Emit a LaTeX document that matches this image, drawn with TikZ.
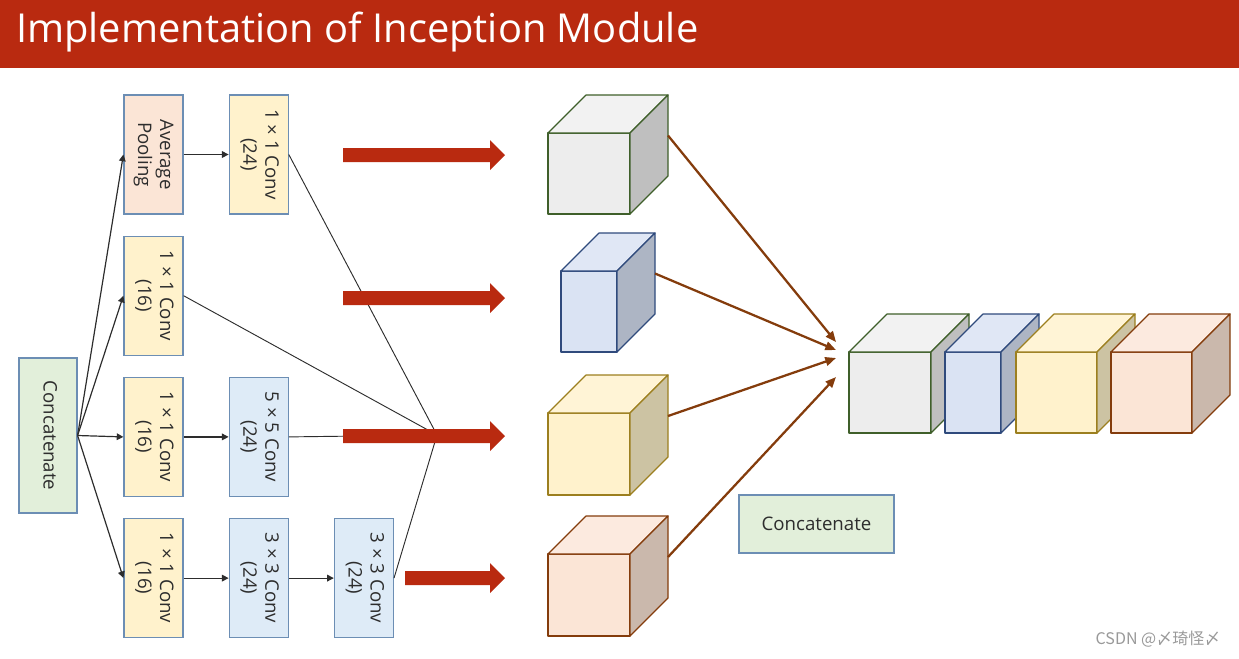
\documentclass[tikz,border=0pt]{standalone}
\usepackage{fontspec}
\setmainfont{Open Sans}
\newfontfamily\cjk{Noto Sans CJK SC}
\usetikzlibrary{positioning,arrows.meta}

\definecolor{titlered}{RGB}{185,42,16}
\definecolor{boxline}{RGB}{108,142,180}
\definecolor{txt}{RGB}{45,45,45}
\definecolor{greenfill}{RGB}{226,239,218}
\definecolor{peachfill}{RGB}{251,229,214}
\definecolor{yellowfill}{RGB}{255,242,204}
\definecolor{bluefill}{RGB}{222,235,247}
\definecolor{brownline}{RGB}{132,60,12}
\definecolor{grayfront}{RGB}{237,237,237}
\definecolor{graytop}{RGB}{242,242,242}
\definecolor{grayside}{RGB}{191,191,191}
\definecolor{grayline}{RGB}{63,95,42}
\definecolor{bluefront}{RGB}{218,227,243}
\definecolor{bluetop}{RGB}{224,231,245}
\definecolor{blueside}{RGB}{173,181,196}
\definecolor{bluecube}{RGB}{47,74,124}
\definecolor{yellowfront}{RGB}{255,242,204}
\definecolor{yellowtop}{RGB}{255,244,214}
\definecolor{yellowside}{RGB}{204,195,163}
\definecolor{yellowline}{RGB}{156,127,31}
\definecolor{orangefront}{RGB}{251,229,214}
\definecolor{orangetop}{RGB}{252,234,223}
\definecolor{orangeside}{RGB}{202,184,172}

\newcommand{\vtext}[1]{\rotatebox{-90}{\begin{tabular}{@{}c@{}}#1\end{tabular}}}
\newcommand{\drawcube}[9]{%
	\filldraw[cubeline, draw=#9, fill=#6] (#2,#3) rectangle ++(#4,#5);
	\filldraw[cubeline, draw=#9, fill=#7] (#2,#3) -- ++(38,-38) -- ++(#4,0) -- ++(-38,38) -- cycle;
	\filldraw[cubeline, draw=#9, fill=#8] (#2+#4,#3) -- ++(38,-38) -- ++(0,#5) -- ++(-38,38) -- cycle;
	\coordinate (#1) at (#2+#4+38,#3-38+#5/2);}
\newcommand{\bigarrow}[2]{\fill[titlered] (#1,#2-7) -- (490,#2-7) -- (490,#2-15) -- (505,#2) -- (490,#2+15) -- (490,#2+7) -- (#1,#2+7) -- cycle;}

\begin{document}
\begin{tikzpicture}
		[x=0.75pt, y=-0.75pt, node distance={15.75pt and 33.75pt},
		layer/.style = {draw=boxline, line width=0.9pt, text=txt, inner sep=0pt,
			minimum width=44.25pt, minimum height=89.25pt, font=\fontsize{14}{16.5}\selectfont},
		link/.style = {draw=txt, line width=0.9pt, -{Triangle[length=5pt,width=5pt]}},
		thinline/.style = {draw=txt, line width=0.7pt},
		feed/.style = {draw=brownline, line width=1.7pt, -{Triangle[length=8pt,width=6.5pt]}},
		cubeline/.style = {line width=0.9pt, line join=round}]
	\useasboundingbox (0,0) rectangle (1239,658);
	\fill[titlered] (0,0) rectangle (1239,68);
	\node[anchor=base west, text=white, inner sep=0pt, font=\fontsize{29.9}{34}\selectfont] (title) at (16,42) {Implementation of Inception Module};

	\node[layer, fill=greenfill, minimum width=43.5pt, minimum height=116.25pt] (input) at (48,435.5) {\vtext{Concatenate}};
	\node[layer, fill=peachfill] (pool) at (153.5,154.5) {\vtext{Average\\Pooling}};
	\node[layer, fill=yellowfill] (conv1a) [right=of pool] {\vtext{1 × 1 Conv\\(24)}};
	\node[layer, fill=yellowfill] (conv1b) [below=of pool] {\vtext{1 × 1 Conv\\(16)}};
	\node[layer, fill=yellowfill] (conv1c) [below=of conv1b] {\vtext{1 × 1 Conv\\(16)}};
	\node[layer, fill=bluefill] (conv5) [right=of conv1c] {\vtext{5 × 5 Conv\\(24)}};
	\node[layer, fill=yellowfill] (conv1d) [below=of conv1c] {\vtext{1 × 1 Conv\\(16)}};
	\node[layer, fill=bluefill] (conv3a) [right=of conv1d] {\vtext{3 × 3 Conv\\(24)}};
	\node[layer, fill=bluefill] (conv3b) [right=of conv3a] {\vtext{3 × 3 Conv\\(24)}};

	\draw[link] (input.east) -- (pool.west);
	\draw[link] (input.east) -- (conv1b.west);
	\draw[link] (input.east) -- (conv1c.west);
	\draw[link] (input.east) -- (conv1d.west);
	\draw[link] (pool) -- (conv1a);
	\draw[link] (conv1c) -- (conv5);
	\draw[link] (conv1d) -- (conv3a);
	\draw[link] (conv3a) -- (conv3b);

	\coordinate (merge) at (437,435);
	\draw[thinline] (conv1a.east) -- (merge);
	\draw[thinline] (conv1b.east) -- (merge);
	\draw[thinline] (conv5.east) -- (merge);
	\draw[thinline] (conv3b.east) -- (merge);

	\bigarrow{343}{155}
	\bigarrow{343}{298}
	\bigarrow{343}{436}
	\bigarrow{405}{578}

	\drawcube{out1}{548}{133}{82}{81}{grayfront}{graytop}{grayside}{grayline}
	\drawcube{out2}{561}{271}{56}{81}{bluefront}{bluetop}{blueside}{bluecube}
	\drawcube{out3}{548}{413}{82}{82}{yellowfront}{yellowtop}{yellowside}{yellowline}
	\drawcube{out4}{548}{554}{82}{82}{orangefront}{orangetop}{orangeside}{brownline}

	\drawcube{cat1}{849}{352}{82}{81}{grayfront}{graytop}{grayside}{grayline}
	\drawcube{cat2}{945}{352}{56}{81}{bluefront}{bluetop}{blueside}{bluecube}
	\drawcube{cat3}{1016}{352}{81}{81}{yellowfront}{yellowtop}{yellowside}{yellowline}
	\drawcube{cat4}{1111}{352}{81}{81}{orangefront}{orangetop}{orangeside}{brownline}

	\coordinate (in1) at (836,342);
	\coordinate (in2) at (836,350);
	\coordinate (in3) at (836,358);
	\coordinate (in4) at (836,377);
	\draw[feed] (out1) -- (in1);
	\draw[feed] (out2) -- (in2);
	\draw[feed] (out3) -- (in3);
	\draw[feed] (out4) -- (in4);

	\node[draw=boxline, line width=0.9pt, fill=greenfill, text=txt, minimum width=116.25pt, minimum height=43.5pt,
		font=\fontsize{14}{16.5}\selectfont] (concat) at (816.5,524) {Concatenate};
	\node[text=black!40, font=\cjk\fontsize{12}{14}\selectfont] (mark) at (1158,639) {CSDN @〆琦怪〆};
\end{tikzpicture}
\end{document}
